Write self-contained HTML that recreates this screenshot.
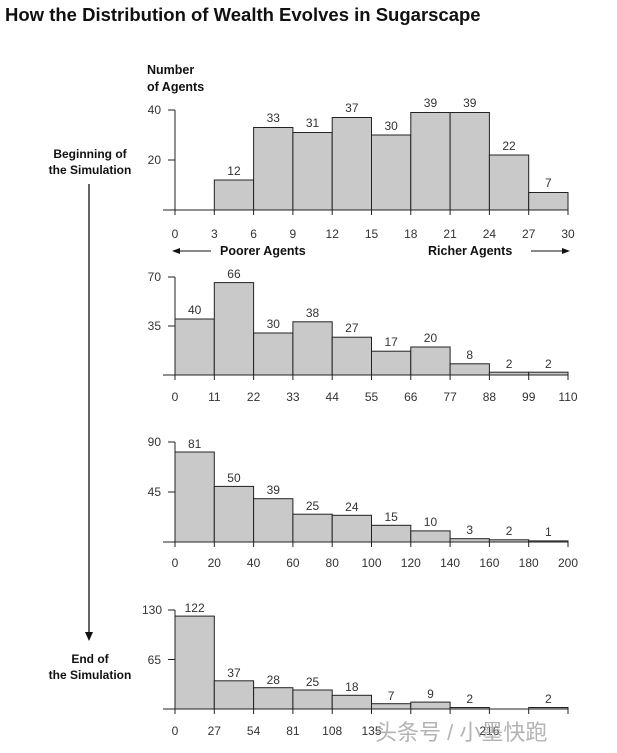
<!DOCTYPE html>
<html><head><meta charset="utf-8"><style>
body{margin:0;background:#fff;width:617px;height:753px;overflow:hidden}
svg{display:block}
text{font-family:"Liberation Sans","Noto Sans CJK SC",sans-serif}
.n{font-size:12px;fill:#333}
.b{font-weight:bold;fill:#111}
</style></head><body>
<svg width="617" height="753" viewBox="0 0 617 753">
<text x="5" y="21" class="b" font-size="18.5">How the Distribution of Wealth Evolves in Sugarscape</text>
<text x="147" y="74" class="b" font-size="12.5">Number</text>
<text x="147" y="91" class="b" font-size="12.5">of Agents</text>
<text x="90" y="158" class="b" font-size="12" text-anchor="middle">Beginning of</text>
<text x="90" y="174" class="b" font-size="12" text-anchor="middle">the Simulation</text>
<text x="90" y="663" class="b" font-size="12" text-anchor="middle">End of</text>
<text x="90" y="679" class="b" font-size="12" text-anchor="middle">the Simulation</text>
<line x1="89" y1="184" x2="89" y2="633" stroke="#111" stroke-width="1.3"/>
<polygon points="85,632 93,632 89,641" fill="#111"/>
<g stroke="#222" stroke-width="1" fill="#c9c9c9">
<rect x="214.3" y="180" width="39.3" height="30"/><rect x="253.6" y="127.5" width="39.3" height="82.5"/><rect x="292.9" y="132.5" width="39.3" height="77.5"/><rect x="332.2" y="117.5" width="39.3" height="92.5"/><rect x="371.5" y="135" width="39.3" height="75"/><rect x="410.8" y="112.5" width="39.3" height="97.5"/><rect x="450.1" y="112.5" width="39.3" height="97.5"/><rect x="489.4" y="155" width="39.3" height="55"/><rect x="528.7" y="192.5" width="39.3" height="17.5"/>
<rect x="175" y="319" width="39.3" height="56"/><rect x="214.3" y="282.6" width="39.3" height="92.4"/><rect x="253.6" y="333" width="39.3" height="42"/><rect x="292.9" y="321.8" width="39.3" height="53.2"/><rect x="332.2" y="337.2" width="39.3" height="37.8"/><rect x="371.5" y="351.2" width="39.3" height="23.8"/><rect x="410.8" y="347" width="39.3" height="28"/><rect x="450.1" y="363.8" width="39.3" height="11.2"/><rect x="489.4" y="372.2" width="39.3" height="2.8"/><rect x="528.7" y="372.2" width="39.3" height="2.8"/>
<rect x="175" y="452" width="39.3" height="90"/><rect x="214.3" y="486.4" width="39.3" height="55.6"/><rect x="253.6" y="498.7" width="39.3" height="43.3"/><rect x="292.9" y="514.2" width="39.3" height="27.8"/><rect x="332.2" y="515.3" width="39.3" height="26.7"/><rect x="371.5" y="525.3" width="39.3" height="16.7"/><rect x="410.8" y="530.9" width="39.3" height="11.1"/><rect x="450.1" y="538.7" width="39.3" height="3.3"/><rect x="489.4" y="539.8" width="39.3" height="2.2"/><rect x="528.7" y="540.9" width="39.3" height="1.1"/>
<rect x="175" y="616.1" width="39.3" height="92.9"/><rect x="214.3" y="680.8" width="39.3" height="28.2"/><rect x="253.6" y="687.7" width="39.3" height="21.3"/><rect x="292.9" y="690" width="39.3" height="19"/><rect x="332.2" y="695.3" width="39.3" height="13.7"/><rect x="371.5" y="703.7" width="39.3" height="5.3"/><rect x="410.8" y="702.1" width="39.3" height="6.9"/><rect x="450.1" y="707.5" width="39.3" height="1.5"/><rect x="528.7" y="707.5" width="39.3" height="1.5"/>
</g>
<g stroke="#222" stroke-width="1" fill="none">
<path d="M175 110V210M168 110H175M168 160H175M163 210H568"/>
<path d="M175 277V375M168 277H175M168 326H175M163 375H568"/>
<path d="M175 442V542M168 442H175M168 492H175M163 542H568"/>
<path d="M175 610V709M168 610H175M168 659.5H175M163 709H568"/>
<path d="M175 210v5M214.3 210v5M253.6 210v5M292.9 210v5M332.2 210v5M371.5 210v5M410.8 210v5M450.1 210v5M489.4 210v5M528.7 210v5M568 210v5"/>
<path d="M175 375v5M214.3 375v5M253.6 375v5M292.9 375v5M332.2 375v5M371.5 375v5M410.8 375v5M450.1 375v5M489.4 375v5M528.7 375v5M568 375v5"/>
<path d="M175 542v5M214.3 542v5M253.6 542v5M292.9 542v5M332.2 542v5M371.5 542v5M410.8 542v5M450.1 542v5M489.4 542v5M528.7 542v5M568 542v5"/>
<path d="M175 709v5M214.3 709v5M253.6 709v5M292.9 709v5M332.2 709v5M371.5 709v5M410.8 709v5M450.1 709v5M489.4 709v5M528.7 709v5M568 709v5"/>
</g>
<g class="n" text-anchor="end">
<text x="161" y="114">40</text><text x="161" y="164">20</text>
<text x="161" y="281">70</text><text x="161" y="330">35</text>
<text x="161" y="446">90</text><text x="161" y="496">45</text>
<text x="162" y="614">130</text><text x="161" y="664">65</text>
</g>
<g class="n" text-anchor="middle">
<text x="233.95" y="175">12</text><text x="273.25" y="122">33</text><text x="312.55" y="127">31</text><text x="351.85" y="112">37</text><text x="391.15" y="130">30</text><text x="430.45" y="107">39</text><text x="469.75" y="107">39</text><text x="509.05" y="150">22</text><text x="548.35" y="187">7</text>
<text x="175" y="238">0</text><text x="214.3" y="238">3</text><text x="253.6" y="238">6</text><text x="292.9" y="238">9</text><text x="332.2" y="238">12</text><text x="371.5" y="238">15</text><text x="410.8" y="238">18</text><text x="450.1" y="238">21</text><text x="489.4" y="238">24</text><text x="528.7" y="238">27</text><text x="568" y="238">30</text>
<text x="194.65" y="314">40</text><text x="233.95" y="278">66</text><text x="273.25" y="328">30</text><text x="312.55" y="317">38</text><text x="351.85" y="332">27</text><text x="391.15" y="346">17</text><text x="430.45" y="342">20</text><text x="469.75" y="359">8</text><text x="509.05" y="368">2</text><text x="548.35" y="368">2</text>
<text x="175" y="401">0</text><text x="214.3" y="401">11</text><text x="253.6" y="401">22</text><text x="292.9" y="401">33</text><text x="332.2" y="401">44</text><text x="371.5" y="401">55</text><text x="410.8" y="401">66</text><text x="450.1" y="401">77</text><text x="489.4" y="401">88</text><text x="528.7" y="401">99</text><text x="568" y="401">110</text>
<text x="194.65" y="448">81</text><text x="233.95" y="482">50</text><text x="273.25" y="494">39</text><text x="312.55" y="510">25</text><text x="351.85" y="511">24</text><text x="391.15" y="521">15</text><text x="430.45" y="526">10</text><text x="469.75" y="534">3</text><text x="509.05" y="535">2</text><text x="548.35" y="536">1</text>
<text x="175" y="567">0</text><text x="214.3" y="567">20</text><text x="253.6" y="567">40</text><text x="292.9" y="567">60</text><text x="332.2" y="567">80</text><text x="371.5" y="567">100</text><text x="410.8" y="567">120</text><text x="450.1" y="567">140</text><text x="489.4" y="567">160</text><text x="528.7" y="567">180</text><text x="568" y="567">200</text>
<text x="194.65" y="612">122</text><text x="233.95" y="677">37</text><text x="273.25" y="684">28</text><text x="312.55" y="686">25</text><text x="351.85" y="691">18</text><text x="391.15" y="700">7</text><text x="430.45" y="698">9</text><text x="469.75" y="703">2</text><text x="548.35" y="703">2</text>
<text x="175" y="735">0</text><text x="214.3" y="735">27</text><text x="253.6" y="735">54</text><text x="292.9" y="735">81</text><text x="332.2" y="735">108</text><text x="371.5" y="735">135</text><text x="489.4" y="735">216</text>
</g>
<text x="220" y="255" class="b" font-size="12.5">Poorer Agents</text>
<text x="428" y="255" class="b" font-size="12.5">Richer Agents</text>
<path d="M178 251H211M531 251H564" stroke="#111" stroke-width="1"/>
<polygon points="172,251 180,248 180,254" fill="#111"/>
<polygon points="570,251 562,248 562,254" fill="#111"/>
<text x="375" y="740" font-size="22" fill="#999" fill-opacity="0.75">头条号 / 小墨快跑</text>
</svg>
</body></html>
